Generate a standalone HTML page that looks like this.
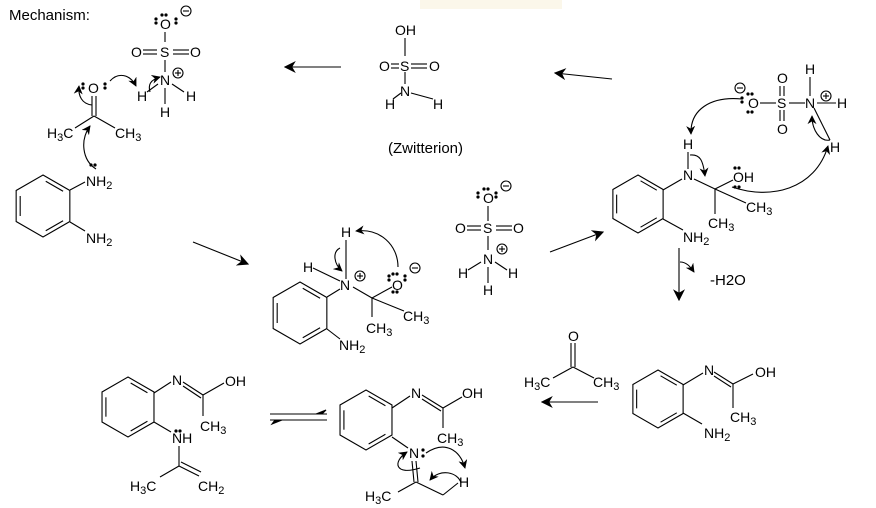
<!DOCTYPE html>
<html><head><meta charset="utf-8"><style>
html,body{margin:0;padding:0;background:#fff;}
svg{display:block;}
text{font-family:"Liberation Sans",Arial,sans-serif;font-size:14px;fill:#000;}
.s{font-size:11px;}
line,path,polyline{stroke:#000;stroke-width:1.1;fill:none;}
.ar{stroke-width:1.1;}
circle.d{fill:#000;stroke:none;}
circle.c{fill:#fff;stroke:#000;stroke-width:1.1;}
</style></head><body>
<svg id="sv" width="876" height="508" viewBox="0 0 876 508" xmlns="http://www.w3.org/2000/svg">
<defs>
<marker id="ah" viewBox="0 0 10 10" refX="9" refY="5" markerWidth="9" markerHeight="9" orient="auto" markerUnits="userSpaceOnUse">
<path d="M0,0 L10,5 L0,10 L3,5 Z" style="fill:#000;stroke:none"/></marker>
<marker id="ah2" viewBox="0 0 10 10" refX="9" refY="5" markerWidth="12" markerHeight="12" orient="auto" markerUnits="userSpaceOnUse">
<path d="M0,0 L10,5 L0,10 L3,5 Z" style="fill:#000;stroke:none"/></marker>
</defs>
<rect x="420" y="0" width="142" height="9" fill="#fbf7ea"/>
<g id="rings"></g>
<text x="9" y="20" style="font-size:15px">Mechanism:</text>

<!-- top-left sulfamate -->
<text x="160" y="29">O</text>
<circle class="c" cx="186" cy="11" r="5"/><line x1="183" y1="11" x2="189" y2="11"/>
<line x1="165" y1="32" x2="165" y2="42"/>
<text x="160" y="57">S</text>
<text x="131" y="57">O</text><text x="190" y="57">O</text>
<line x1="143" y1="50" x2="157" y2="50"/><line x1="143" y1="54" x2="157" y2="54"/>
<line x1="173" y1="50" x2="189" y2="50"/><line x1="173" y1="54" x2="189" y2="54"/>
<line x1="165" y1="60" x2="165" y2="72"/>
<text x="160" y="85">N</text>
<circle class="c" cx="178" cy="73" r="5"/><line x1="175" y1="73" x2="181" y2="73"/><line x1="178" y1="70" x2="178" y2="76"/>
<text x="137" y="101">H</text><text x="186" y="101">H</text><text x="160" y="117">H</text>
<line x1="147" y1="92" x2="158" y2="84"/><line x1="172" y1="84" x2="184" y2="92"/><line x1="165" y1="88" x2="165" y2="104"/>
<!-- acetone -->
<text x="88" y="93">O</text>
<line x1="92" y1="96" x2="92" y2="116"/><line x1="96" y1="96" x2="96" y2="116"/>
<line x1="94" y1="116" x2="75" y2="128"/><line x1="94" y1="116" x2="115" y2="128"/>
<text x="47" y="138">H<tspan class="s" dy="3">3</tspan><tspan dy="-3">C</tspan></text>
<text x="115" y="138">CH<tspan class="s" dy="3">3</tspan></text>
<text x="86" y="186">NH<tspan class="s" dy="3">2</tspan></text>
<text x="86" y="243">NH<tspan class="s" dy="3">2</tspan></text>
<line x1="70" y1="190" x2="85" y2="182"/><line x1="70" y1="222" x2="85" y2="231"/>
<path class="ar" d="M96,169 C82,160 80,140 90,126" marker-end="url(#ah)"/>
<path class="ar" d="M92,105 C82,104 78,96 79,86" marker-end="url(#ah)"/>
<path class="ar" d="M110,81 C118,72 130,74 136,86" marker-end="url(#ah)"/>
<path class="ar" d="M150,92 C148,85 150,80 160,77" marker-end="url(#ah)"/>

<!-- top middle sulfamic acid -->
<text x="395" y="35">OH</text>
<line x1="405" y1="38" x2="405" y2="56"/>
<text x="379" y="71">O</text><text x="400" y="71">S</text><text x="429" y="71">O</text>
<line x1="391" y1="64" x2="399" y2="64"/><line x1="391" y1="68" x2="399" y2="68"/>
<line x1="411" y1="64" x2="427" y2="64"/><line x1="411" y1="68" x2="427" y2="68"/>
<line x1="405" y1="72" x2="405" y2="84"/>
<text x="400" y="96">N</text>
<text x="385" y="109">H</text><text x="433" y="109">H</text>
<line x1="393" y1="99" x2="401" y2="93"/><line x1="411" y1="93" x2="433" y2="99"/>
<text x="388" y="153" style="font-size:15px">(Zwitterion)</text>

<!-- reaction arrows -->
<line x1="341" y1="67" x2="285" y2="67" marker-end="url(#ah2)"/>
<line x1="612" y1="79" x2="555" y2="73" marker-end="url(#ah2)"/>
<line x1="193" y1="242" x2="248" y2="264" marker-end="url(#ah2)"/>
<line x1="550" y1="252" x2="603" y2="232" marker-end="url(#ah2)"/>
<line x1="679" y1="248" x2="679" y2="300" marker-end="url(#ah2)"/>
<path d="M680,262 C686,262 690,266 694,272" marker-end="url(#ah)"/>
<text x="710" y="285" style="font-size:15px">-H2O</text>
<line x1="598" y1="402" x2="542" y2="402" marker-end="url(#ah2)"/>
<line x1="270" y1="414" x2="327" y2="414"/>
<line x1="270" y1="420" x2="327" y2="420"/>
<path d="M282,420 L272,424 L275,420 Z" style="fill:#000;stroke:#000"/>
<path d="M316,414 L326,410 L322,414 Z" style="fill:#000;stroke:#000"/>

<!-- middle-left intermediate -->
<text x="340" y="290">N</text>
<circle class="c" cx="360" cy="276" r="5"/><line x1="357" y1="276" x2="363" y2="276"/><line x1="360" y1="273" x2="360" y2="279"/>
<text x="341" y="237">H</text><text x="303" y="272">H</text>
<line x1="346" y1="240" x2="346" y2="279"/><line x1="313" y1="268" x2="340" y2="281"/>
<line x1="327" y1="297" x2="340" y2="289"/>
<line x1="353" y1="287" x2="372" y2="298"/>
<line x1="372" y1="298" x2="392" y2="287"/><line x1="372" y1="298" x2="404" y2="311"/><line x1="372" y1="298" x2="372" y2="317"/>
<text x="392" y="290">O</text>
<circle class="c" cx="415" cy="268" r="5"/><line x1="412" y1="268" x2="418" y2="268"/>
<text x="403" y="321">CH<tspan class="s" dy="3">3</tspan></text>
<text x="366" y="333">CH<tspan class="s" dy="3">3</tspan></text>
<text x="339" y="350">NH<tspan class="s" dy="3">2</tspan></text>
<line x1="327" y1="329" x2="340" y2="339"/>
<path class="ar" d="M398,267 C398,245 380,228 356,231" marker-end="url(#ah)"/>
<path class="ar" d="M340,248 C332,252 334,264 342,271" marker-end="url(#ah)"/>

<!-- middle sulfamate -->
<text x="483" y="203">O</text>
<circle class="c" cx="506" cy="186" r="5"/><line x1="503" y1="186" x2="509" y2="186"/>
<line x1="488" y1="206" x2="488" y2="221"/>
<text x="483" y="233">S</text><text x="455" y="233">O</text><text x="513" y="233">O</text>
<line x1="467" y1="226" x2="481" y2="226"/><line x1="467" y1="230" x2="481" y2="230"/>
<line x1="496" y1="226" x2="512" y2="226"/><line x1="496" y1="230" x2="512" y2="230"/>
<line x1="488" y1="236" x2="488" y2="250"/>
<text x="483" y="264">N</text>
<circle class="c" cx="502" cy="249" r="5"/><line x1="499" y1="249" x2="505" y2="249"/><line x1="502" y1="246" x2="502" y2="252"/>
<text x="458" y="278">H</text><text x="508" y="278">H</text><text x="483" y="295">H</text>
<line x1="468" y1="270" x2="481" y2="262"/><line x1="495" y1="262" x2="507" y2="270"/><line x1="488" y1="267" x2="488" y2="283"/>

<!-- right intermediate -->
<text x="683" y="180">N</text><text x="683" y="149">H</text>
<line x1="688" y1="152" x2="688" y2="169"/>
<line x1="663" y1="190" x2="682" y2="179"/><line x1="694" y1="179" x2="715" y2="189"/>
<line x1="715" y1="189" x2="733" y2="180"/><line x1="715" y1="189" x2="746" y2="203"/><line x1="715" y1="189" x2="715" y2="214"/>
<text x="733" y="182">OH</text>
<text x="746" y="212">CH<tspan class="s" dy="3">3</tspan></text>
<text x="708" y="228">CH<tspan class="s" dy="3">3</tspan></text>
<text x="683" y="242">NH<tspan class="s" dy="3">2</tspan></text>
<line x1="663" y1="219" x2="683" y2="230"/>
<text x="748" y="108">O</text>
<circle class="c" cx="740" cy="88" r="5"/><line x1="737" y1="88" x2="743" y2="88"/>
<line x1="760" y1="103" x2="776" y2="103"/>
<text x="777" y="108">S</text>
<text x="777" y="83">O</text><text x="777" y="134">O</text>
<line x1="780" y1="86" x2="780" y2="96"/><line x1="784" y1="86" x2="784" y2="96"/>
<line x1="780" y1="110" x2="780" y2="121"/><line x1="784" y1="110" x2="784" y2="121"/>
<line x1="789" y1="103" x2="805" y2="103"/>
<text x="805" y="108">N</text>
<circle class="c" cx="826" cy="96" r="5"/><line x1="823" y1="96" x2="829" y2="96"/><line x1="826" y1="93" x2="826" y2="99"/>
<text x="805" y="74">H</text><line x1="810" y1="77" x2="810" y2="96"/>
<text x="837" y="108">H</text><line x1="817" y1="103" x2="836" y2="103"/>
<text x="830" y="152">H</text><line x1="814" y1="108" x2="830" y2="140"/>
<path class="ar" d="M742,99 C710,96 690,110 691,134" marker-end="url(#ah)"/>
<path class="ar" d="M690,155 C700,154 703,160 705,176" marker-end="url(#ah)"/>
<path class="ar" d="M732,187 C770,200 815,190 828,146" marker-end="url(#ah)"/>
<path class="ar" d="M830,140 C820,142 812,130 812,116" marker-end="url(#ah)"/>

<!-- acetone bottom -->
<text x="568" y="341">O</text>
<line x1="571" y1="343" x2="571" y2="367"/><line x1="575" y1="343" x2="575" y2="367"/>
<line x1="573" y1="367" x2="553" y2="378"/><line x1="573" y1="367" x2="594" y2="378"/>
<text x="524" y="387">H<tspan class="s" dy="3">3</tspan><tspan dy="-3">C</tspan></text>
<text x="593" y="387">CH<tspan class="s" dy="3">3</tspan></text>

<!-- bottom right product D -->
<text x="704" y="375">N</text>
<line x1="683" y1="385" x2="703" y2="373"/>
<line x1="714" y1="372" x2="733" y2="384"/><line x1="714" y1="376" x2="731" y2="387"/>
<line x1="733" y1="384" x2="753" y2="374"/><line x1="733" y1="384" x2="733" y2="408"/>
<text x="755" y="377">OH</text>
<text x="730" y="422">CH<tspan class="s" dy="3">3</tspan></text>
<text x="704" y="438">NH<tspan class="s" dy="3">2</tspan></text>
<line x1="683" y1="413" x2="702" y2="424"/>

<!-- bottom left E -->
<text x="172" y="385">N</text>
<line x1="154" y1="393" x2="171" y2="382"/>
<line x1="183" y1="382" x2="203" y2="395"/><line x1="183" y1="386" x2="201" y2="398"/>
<line x1="203" y1="395" x2="224" y2="383"/><line x1="203" y1="395" x2="203" y2="416"/>
<text x="225" y="386">OH</text>
<text x="200" y="431">CH<tspan class="s" dy="3">3</tspan></text>
<text x="172" y="443">NH</text>
<line x1="154" y1="422" x2="171" y2="432"/>
<line x1="179" y1="446" x2="179" y2="466"/>
<line x1="179" y1="466" x2="160" y2="477"/><line x1="179" y1="466" x2="199" y2="476"/><line x1="181" y1="462" x2="201" y2="472"/>
<text x="130" y="491">H<tspan class="s" dy="3">3</tspan><tspan dy="-3">C</tspan></text>
<text x="198" y="491">CH<tspan class="s" dy="3">2</tspan></text>

<!-- bottom middle F -->
<text x="411" y="398">N</text>
<line x1="392" y1="408" x2="410" y2="396"/>
<line x1="422" y1="395" x2="443" y2="408"/><line x1="422" y1="399" x2="441" y2="411"/>
<line x1="443" y1="408" x2="462" y2="397"/><line x1="443" y1="408" x2="443" y2="428"/>
<text x="462" y="398">OH</text>
<text x="437" y="443">CH<tspan class="s" dy="3">3</tspan></text>
<text x="409" y="458">N</text>
<line x1="392" y1="437" x2="408" y2="448"/>
<line x1="412" y1="461" x2="414" y2="482"/><line x1="416" y1="461" x2="418" y2="482"/>
<line x1="416" y1="482" x2="398" y2="492"/><line x1="416" y1="482" x2="443" y2="495"/><line x1="443" y1="495" x2="458" y2="483"/>
<text x="365" y="501">H<tspan class="s" dy="3">3</tspan><tspan dy="-3">C</tspan></text>
<text x="459" y="487">H</text>
<path class="ar" d="M426,453 C445,440 460,450 465,468" marker-end="url(#ah)"/>
<path class="ar" d="M461,483 C458,472 440,468 430,480" marker-end="url(#ah)"/>
<path class="ar" d="M420,468 C395,476 392,462 407,452" marker-end="url(#ah)"/>

<g id="dots"></g>
</svg>
<script>
var NS="http://www.w3.org/2000/svg";
function el(g,t,a){var e=document.createElementNS(NS,t);for(var k in a)e.setAttribute(k,a[k]);g.appendChild(e);return e;}
var rg=document.getElementById('rings');
function ring(cx,cy,r){
 var h=0.866*r,P=[[cx,cy-r],[cx+h,cy-r/2],[cx+h,cy+r/2],[cx,cy+r],[cx-h,cy+r/2],[cx-h,cy-r/2]];
 el(rg,'polygon',{points:P.map(function(p){return p.join(',')}).join(' '),style:'fill:none;stroke:#000;stroke-width:1.1'});
 [[0,1],[2,3],[4,5]].forEach(function(e){
  var a=P[e[0]],b=P[e[1]],ia=[a[0]+(cx-a[0])*0.15,a[1]+(cy-a[1])*0.15],ib=[b[0]+(cx-b[0])*0.15,b[1]+(cy-b[1])*0.15];
  var sx=ia[0]+(ib[0]-ia[0])*0.12,sy=ia[1]+(ib[1]-ia[1])*0.12,ex=ia[0]+(ib[0]-ia[0])*0.88,ey=ia[1]+(ib[1]-ia[1])*0.88;
  el(rg,'line',{x1:sx,y1:sy,x2:ex,y2:ey});
 });
}
ring(43,206,31);ring(300,313,31);ring(638,204,29);ring(658,399,29);ring(128,407,30);ring(366,420,30);
var dg=document.getElementById('dots');
function d(x,y){el(dg,'circle',{cx:x,cy:y,r:1.6,'class':'d'});}
function pair(x,y,v){if(v){d(x,y);d(x,y+4);}else{d(x,y);d(x+4,y);}}
pair(162,15);pair(156,19,1);pair(176,19,1);
pair(83,84,1);pair(105,84,1);
pair(91,165);
pair(389,276,1);pair(405,276,1);pair(393,292);pair(393,274);
pair(484,189);pair(478,193,1);pair(496,193,1);
pair(748,94);pair(742,98,1);pair(748,112);
pair(735,168);pair(735,187);
pair(176,431);
d(423,450);d(423,456);
</script>
</body></html>
